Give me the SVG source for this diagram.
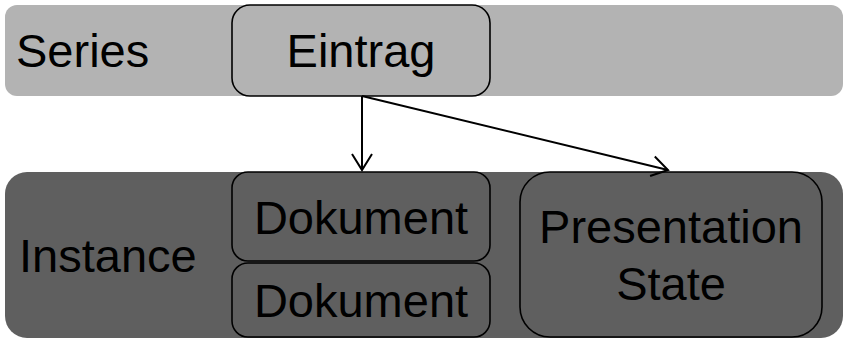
<svg xmlns="http://www.w3.org/2000/svg" width="844" height="338" viewBox="0 0 844 338">
<defs>
<style>
.lbl{font-family:"Liberation Sans",Arial,sans-serif;font-size:47px;fill:#000}
.box{stroke:#000;stroke-width:1.6}
.conn{stroke:#000;stroke-width:2;fill:none}
</style>
<marker id="arr" markerUnits="userSpaceOnUse" markerWidth="40" markerHeight="40" viewBox="-20 -20 40 40" refX="0" refY="0" orient="auto">
<path d="M-16,-10 L0,0 L-16,10" fill="none" stroke="#000" stroke-width="2"/>
</marker>
</defs>
<g id="series">
<rect x="5" y="5" width="838" height="91" rx="12" fill="#b3b3b3"/>
<text class="lbl" x="16" y="67">Series</text>
</g>
<g id="instance">
<rect x="5" y="172" width="838" height="166" rx="22" fill="#5f5f5f"/>
<text class="lbl" x="19" y="272">Instance</text>
</g>
<g id="eintrag">
<rect class="box" x="232" y="5" width="258" height="91" rx="18" fill="#b3b3b3"/>
<text class="lbl" x="361" y="67" text-anchor="middle">Eintrag</text>
</g>
<g id="dokument1">
<rect class="box" x="232" y="172" width="258" height="89" rx="16" fill="#5f5f5f"/>
<text class="lbl" x="361" y="234" text-anchor="middle">Dokument</text>
</g>
<g id="dokument2">
<rect class="box" x="232" y="263" width="258" height="74" rx="16" fill="#5f5f5f"/>
<text class="lbl" x="361" y="317" text-anchor="middle">Dokument</text>
</g>
<g id="presentation">
<rect class="box" x="520" y="172" width="302" height="165" rx="30" fill="#5f5f5f"/>
<text class="lbl" x="671" y="243" text-anchor="middle">Presentation</text>
<text class="lbl" x="671" y="300" text-anchor="middle">State</text>
</g>
<g id="connectors">
<line class="conn" x1="362" y1="96" x2="362" y2="170" marker-end="url(#arr)"/>
<line class="conn" x1="362" y1="96" x2="668" y2="170" marker-end="url(#arr)"/>
</g>
</svg>
